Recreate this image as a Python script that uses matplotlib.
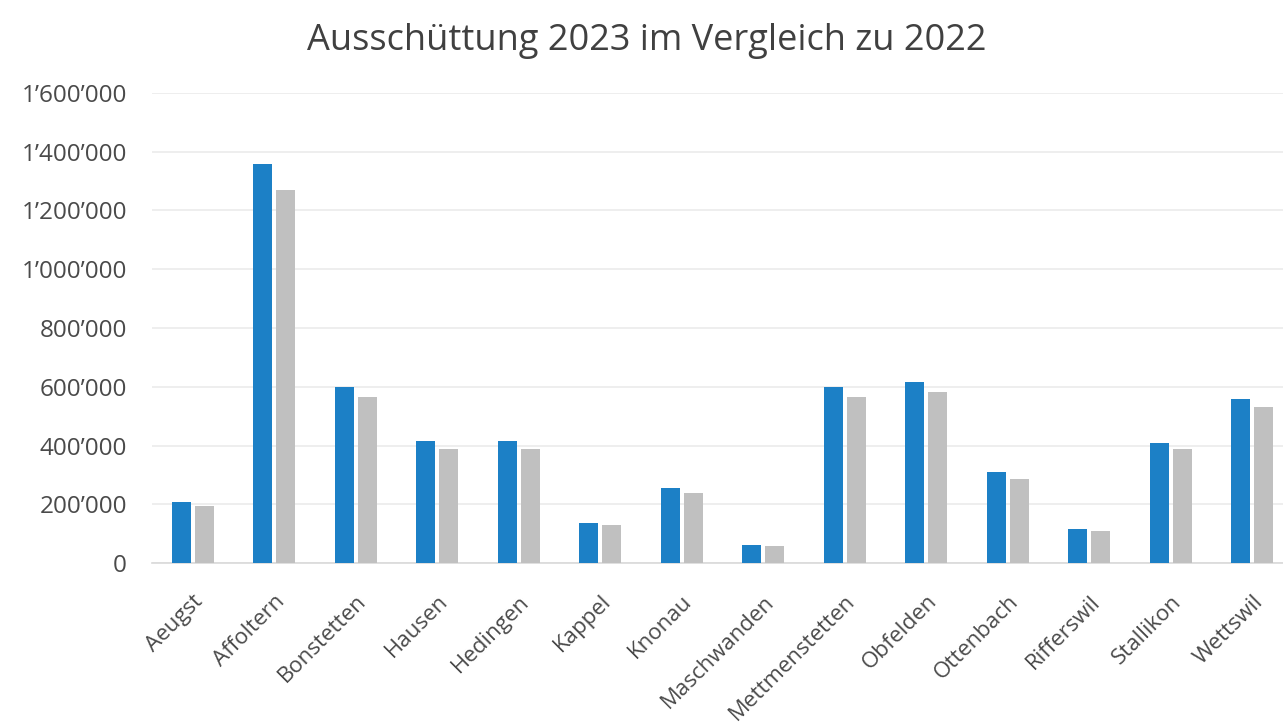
import matplotlib
matplotlib.use("Agg")
import matplotlib.pyplot as plt
import numpy as np
from matplotlib.ticker import FuncFormatter

categories = ["Aeugst", "Affoltern", "Bonstetten", "Hausen", "Hedingen", "Kappel", "Knonau",
              "Maschwanden", "Mettmenstetten", "Obfelden", "Ottenbach", "Rifferswil",
              "Stallikon", "Wettswil"]
values_2023 = [207000, 1358000, 598000, 416000, 415000, 138000, 256000,
               63000, 600000, 616000, 310000, 116000, 408000, 560000]
values_2022 = [196000, 1269000, 567000, 388000, 388000, 131000, 238000,
               60000, 567000, 582000, 286000, 111000, 388000, 532000]
yticks = [0, 200000, 400000, 600000, 800000, 1000000, 1200000, 1400000, 1600000]

plt.rcParams['font.family'] = ['Open Sans', 'DejaVu Sans']

fig = plt.figure(figsize=(12.83, 7.25), dpi=100)
ax = fig.add_axes([152/1283, 1-563.3/725, (1283-152)/1283, (563.3-92.7)/725])

x = np.arange(len(categories))
w = 0.23
off = 0.141
ax.bar(x - off, values_2023, width=w, color="#1C80C6", zorder=3)
ax.bar(x + off, values_2022, width=w, color="#C0C0C0", zorder=3)

ax.set_xlim(-0.5, 13.5 - 10/81.5)
ax.set_ylim(0, 1600000)
ax.set_yticks(yticks)

def fmt(v, pos):
    return f"{int(v):,}".replace(",", "\u2019")
ax.yaxis.set_major_formatter(FuncFormatter(fmt))
ax.grid(axis='y', color="#EBEBEB", linewidth=1.2, zorder=0)
ax.set_axisbelow(True)
for s in ["top", "right", "left"]:
    ax.spines[s].set_visible(False)
ax.spines["bottom"].set_color("#D9D9D9")
ax.spines["bottom"].set_linewidth(1.2)
ax.tick_params(axis='both', length=0, labelcolor="#4A4A4A")
ax.tick_params(axis='y', pad=18, labelsize=17.5)
ax.set_xticks(x)
ax.set_xticklabels(categories, rotation=45, ha='right', rotation_mode='anchor', fontsize=16)
ax.tick_params(axis='x', pad=20)

fig.text(647/1283, 1-41/725, "Ausschüttung 2023 im Vergleich zu 2022", ha='center', va='center',
         fontsize=26, color="#404040")

fig.savefig("out.png", dpi=100, facecolor="white")
